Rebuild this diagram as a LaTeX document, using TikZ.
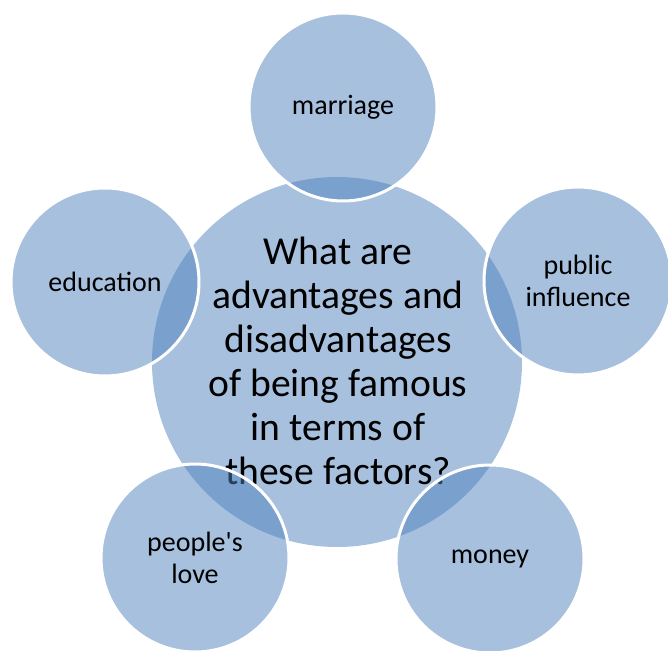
\documentclass[tikz,border=0pt]{standalone}
\usepackage{fontspec}
\setmainfont{Carlito}
\definecolor{accent}{RGB}{79,129,189}
\tikzset{
    topic/.style = {
        circle,
        fill = accent,
        fill opacity = 0.5,
        inner sep = 0pt,
        minimum size = 185pt,
        },
    topic text/.style = {
        align = center,
        font = \fontsize{19.8pt}{22pt}\selectfont,
        },
    factor/.style = {
        circle,
        draw = white,
        line width = 1.5pt,
        fill = accent,
        fill opacity = 0.5,
        text opacity = 1,
        inner sep = 0pt,
        minimum size = 94pt,
        align = center,
        font = \fontsize{14pt}{16pt}\selectfont,
        },
}
\begin{document}
\begin{tikzpicture}[x=0.5pt, y=-0.5pt]
            \useasboundingbox (0,0) rectangle (668,651);

            \node[topic] (question) at (337,362) {};
            \node[topic text] (question text) at (338,361)
                {What are\\advantages and\\disadvantages\\of being famous\\in terms of\\these factors?};

            \node[factor] (marriage) at (343,107) {marriage};
            \node[factor] (influence) at (578,281) {public\\influence};
            \node[factor] (money) at (490,559) {money};
            \node[factor] (love) at (195,558) {people\textquotesingle s\\love};
            \node[factor] (education) at (105,282) {education};
        \end{tikzpicture}
\end{document}
